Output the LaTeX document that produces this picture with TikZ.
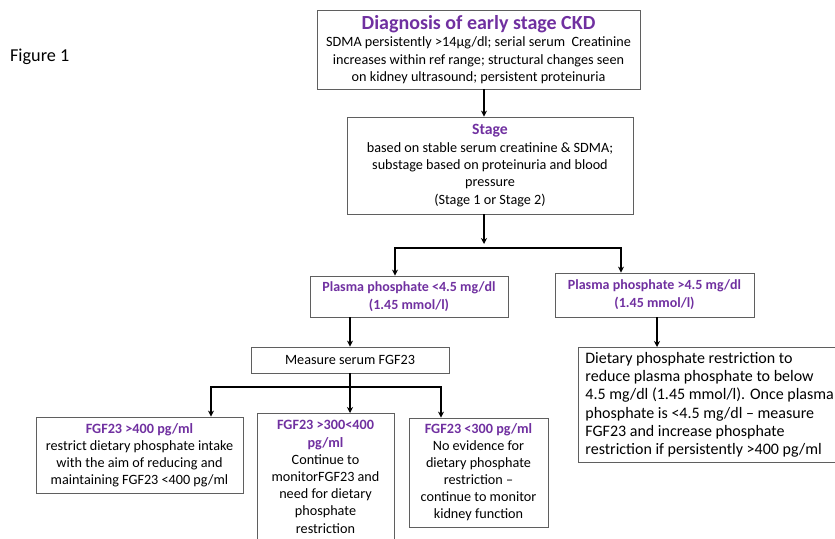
\documentclass[tikz,border=0pt]{standalone}
\usepackage{fontspec}
\setmainfont{Carlito}
\usepackage{xcolor}
\usetikzlibrary{positioning,calc,arrows.meta}
\definecolor{ckdpurple}{RGB}{112,48,160}
\definecolor{boxgray}{RGB}{95,95,95}

\begin{document}
\begin{tikzpicture}[x=1pt,y=-1pt,->,>={Stealth[length=6pt,width=6pt]},
        line width=1.6pt,
        main node/.style={draw=boxgray, line width=0.8pt, rectangle, align=center,
          inner sep=3pt, font=\fontsize{14.2}{17.3}\selectfont},
        head/.style={font=\bfseries, text=ckdpurple}]

\useasboundingbox (0,0) rectangle (835,538);
\clip (0,0) rectangle (835,538);

\node[anchor=west, font=\fontsize{18.2}{20}\selectfont] (0) at (6,57) {Figure 1};

\node[main node, minimum width=323, minimum height=79] (1) at (478.5,49.5)
  {{\fontsize{20}{21.5}\selectfont\color{ckdpurple}\bfseries Diagnosis of early stage CKD}\\
   SDMA persistently >14µg/dl; serial serum\ \ Creatinine\\
   increases within ref range; structural changes seen\\
   on kidney ultrasound; persistent proteinuria};
\node[main node, minimum width=286, minimum height=97] (2) at (490,165.5)
  {{\fontsize{15.7}{17.5}\selectfont\color{ckdpurple}\bfseries Stage}\\
   based on stable serum creatinine \& SDMA;\\
   substage based on proteinuria and blood\\
   pressure\\
   (Stage 1 or Stage 2)};

\node[main node, minimum width=198, minimum height=41, text=ckdpurple,
  font=\fontsize{14}{18}\selectfont\bfseries] (3) at (409,296.5)
  {Plasma phosphate <4.5 mg/dl\\ (1.45 mmol/l)};
\node[main node, minimum width=199, minimum height=44, text=ckdpurple,
  font=\fontsize{14}{18}\selectfont\bfseries] (4) at (654.5,295)
  {Plasma phosphate >4.5 mg/dl\\ (1.45 mmol/l)};

\node[main node, minimum width=198, minimum height=26] (5) at (350,360)
  {Measure serum FGF23};

\node[main node, minimum width=207, minimum height=76,
  font=\fontsize{14.2}{17}\selectfont] (6) at (139.5,455)
  {{\bfseries\color{ckdpurple}FGF23 >400 pg/ml}\\
   restrict dietary phosphate intake\\
   with the aim of reducing and\\
   maintaining FGF23 <400 pg/ml};
\node[main node, anchor=north, minimum width=137, minimum height=127,
  font=\fontsize{14.2}{17.2}\selectfont] (7) at (325.5,413)
  {{\bfseries\color{ckdpurple}FGF23 >300<400}\\
   {\bfseries\color{ckdpurple}pg/ml}\\
   Continue to\\
   monitorFGF23 and\\
   need for dietary\\
   phosphate\\
   restriction};
\node[main node, minimum width=139, minimum height=109,
  font=\fontsize{14.2}{17}\selectfont] (8) at (478.5,472.5)
  {{\bfseries\color{ckdpurple}FGF23 <300 pg/ml}\\
   No evidence for\\
   dietary phosphate\\
   restriction --\\
   continue to monitor\\
   kidney function};

\node[main node, anchor=north west, align=left, inner xsep=7pt, minimum height=115,
  font=\fontsize{16}{18.3}\selectfont] (9) at (578,347)
  {Dietary phosphate restriction to\\
   reduce plasma phosphate to below\\
   4.5 mg/dl (1.45 mmol/l). Once plasma\\
   phosphate is <4.5 mg/dl -- measure\\
   FGF23 and increase phosphate\\
   restriction if persistently >400 pg/ml};

\coordinate (fork1) at (484,248);
\coordinate (l1) at (395,248);
\coordinate (r1) at (621,248);
\coordinate (l2) at (211,387);
\coordinate (r2) at (441,387);

\draw (1.south -| fork1) -- (2.north -| fork1);
\draw[shorten >=4pt] (2.south -| fork1) -- (fork1);
\draw[<->] (3.north -| l1) -- (l1) -- (r1) -- (4.north -| r1);

\draw (3.south -| 5.north) -- (5.north);
\draw[-] (5.south) -- (5.south |- l2);
\draw[<->] (6.north -| l2) -- (l2) -- (r2) -- (8.north -| r2);
\draw (5.south |- l2) -- (7.north -| 5.south);

\draw (4.south -| 657,0) -- (9.north -| 657,0);

\end{tikzpicture}
\end{document}
